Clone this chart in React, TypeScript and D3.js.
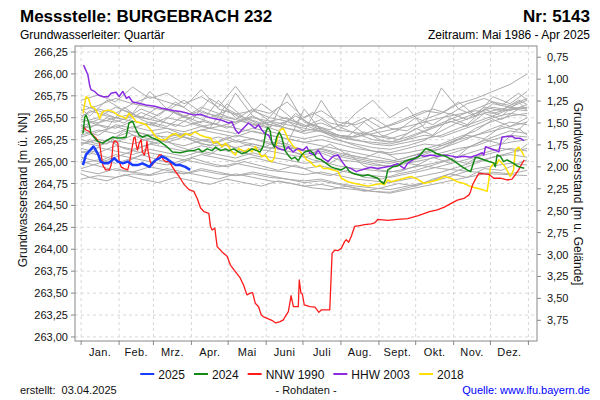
import React from 'react';
import * as d3 from 'd3';

const FONT = '"Liberation Sans", Arial, Helvetica, sans-serif';

// ---- axis data ----
const monthLabels = ['Jan.', 'Feb.', 'Mrz.', 'Apr.', 'Mai', 'Juni', 'Juli', 'Aug.', 'Sept.', 'Okt.', 'Nov.', 'Dez.'];
const monthStartDays = [0, 31, 59, 90, 120, 151, 181, 212, 243, 273, 304, 334, 365];
const levelTicks = [263.0, 263.25, 263.5, 263.75, 264.0, 264.25, 264.5, 264.75, 265.0, 265.25, 265.5, 265.75, 266.0, 266.25];
const depthTicks = [0.75, 1.0, 1.25, 1.5, 1.75, 2.0, 2.25, 2.5, 2.75, 3.0, 3.25, 3.5, 3.75];
const GROUND_LEVEL = 266.94;

// ---- background years (grey), sampled every 14 days ----
const grayDays = [0, 14, 28, 42, 56, 70, 84, 98, 112, 126, 140, 154, 168, 182, 196, 210, 224, 238, 252, 266, 280, 294, 308, 322, 336, 350, 364];
const grayYears: number[][] = [
  [265.70, 265.76, 265.68, 265.85, 265.72, 265.78, 265.66, 265.74, 265.62, 265.86, 265.60, 265.55, 265.68, 265.50, 265.58, 265.45, 265.42, 265.50, 265.38, 265.35, 265.48, 265.55, 265.68, 265.52, 265.74, 265.66, 265.80],
  [265.52, 265.60, 265.55, 265.66, 265.62, 265.58, 265.70, 265.56, 265.52, 265.48, 265.60, 265.46, 265.50, 265.40, 265.44, 265.36, 265.33, 265.30, 265.26, 265.32, 265.42, 265.84, 265.60, 265.52, 265.66, 265.62, 265.70],
  [265.45, 265.50, 265.62, 265.55, 265.80, 265.60, 265.52, 265.58, 265.50, 265.45, 265.52, 265.40, 265.46, 265.35, 265.38, 265.30, 265.28, 265.35, 265.42, 265.50, 265.58, 265.55, 265.66, 265.72, 265.80, 265.88, 266.00],
  [265.40, 265.48, 265.45, 265.52, 265.48, 265.60, 265.50, 265.62, 265.55, 265.48, 265.42, 265.45, 265.38, 265.32, 265.36, 265.28, 265.24, 265.22, 265.20, 265.25, 265.30, 265.28, 265.35, 265.42, 265.50, 265.55, 265.52],
  [265.35, 265.30, 265.42, 265.38, 265.45, 265.40, 265.52, 265.44, 265.70, 265.50, 265.42, 265.38, 265.78, 265.45, 265.38, 265.30, 265.25, 265.20, 265.18, 265.22, 265.26, 265.30, 265.38, 265.45, 265.52, 265.60, 265.58],
  [265.30, 265.36, 265.32, 265.40, 265.35, 265.38, 265.30, 265.36, 265.32, 265.28, 265.35, 265.30, 265.26, 265.22, 265.25, 265.20, 265.15, 265.12, 265.10, 265.15, 265.20, 265.18, 265.25, 265.30, 265.38, 265.45, 265.42],
  [265.25, 265.20, 265.28, 265.35, 265.30, 265.28, 265.32, 265.25, 265.22, 265.30, 265.26, 265.22, 265.20, 265.60, 265.35, 265.25, 265.18, 265.12, 265.08, 265.10, 265.14, 265.20, 265.28, 265.35, 265.48, 265.40, 265.50],
  [265.20, 265.25, 265.22, 265.30, 265.26, 265.22, 265.28, 265.20, 265.18, 265.24, 265.20, 265.15, 265.18, 265.12, 265.15, 265.10, 265.06, 265.02, 265.00, 265.05, 265.10, 265.15, 265.22, 265.30, 265.35, 265.40, 265.45],
  [265.15, 265.10, 265.18, 265.14, 265.20, 265.16, 265.12, 265.18, 265.14, 265.10, 265.15, 265.12, 265.08, 265.05, 265.10, 265.02, 265.00, 264.96, 264.95, 265.00, 265.05, 265.10, 265.15, 265.18, 265.25, 265.30, 265.28],
  [265.10, 265.16, 265.12, 265.08, 265.14, 265.10, 265.06, 265.12, 265.08, 265.04, 265.10, 265.05, 265.02, 264.98, 265.00, 264.95, 264.92, 264.90, 264.88, 264.92, 264.96, 265.00, 265.06, 265.12, 265.18, 265.22, 265.25],
  [265.05, 265.00, 265.08, 265.04, 265.10, 265.06, 265.02, 265.08, 265.04, 265.00, 265.05, 265.00, 264.96, 264.92, 264.95, 264.90, 264.86, 264.84, 264.82, 264.86, 264.90, 264.95, 265.00, 265.05, 265.10, 265.15, 265.12],
  [264.98, 265.02, 264.98, 265.04, 265.00, 264.96, 265.02, 264.98, 264.94, 264.98, 264.94, 264.90, 264.88, 264.85, 264.88, 264.84, 264.80, 264.78, 264.76, 264.80, 264.84, 264.88, 264.94, 265.00, 265.05, 265.08, 265.05],
  [264.90, 264.86, 264.92, 264.88, 264.94, 264.90, 264.86, 264.92, 264.88, 264.84, 264.88, 264.84, 264.80, 264.78, 264.80, 264.75, 264.72, 264.70, 264.68, 264.72, 264.76, 264.80, 264.86, 264.92, 264.95, 264.98, 264.96],
  [264.80, 264.84, 264.82, 264.86, 264.84, 264.88, 264.86, 264.90, 264.86, 264.84, 264.86, 264.82, 264.80, 264.76, 264.78, 264.74, 264.70, 264.66, 264.64, 264.68, 264.72, 264.76, 264.80, 264.84, 264.88, 264.86, 264.90],
  [265.58, 265.64, 265.72, 265.66, 265.74, 265.68, 265.62, 265.82, 265.60, 265.54, 265.58, 265.50, 265.46, 265.40, 265.48, 265.35, 265.55, 265.70, 265.50, 265.62, 265.38, 265.42, 265.48, 265.55, 265.62, 265.58, 265.65],
  [265.48, 265.44, 265.50, 265.46, 265.42, 265.50, 265.46, 265.40, 265.44, 265.78, 265.52, 265.42, 265.38, 265.34, 265.70, 265.40, 265.32, 265.25, 265.22, 265.28, 265.35, 265.44, 265.52, 265.60, 265.68, 265.64, 265.72],
  [265.38, 265.42, 265.38, 265.46, 265.42, 265.38, 265.34, 265.40, 265.36, 265.32, 265.38, 265.34, 265.30, 265.26, 265.30, 265.24, 265.20, 265.16, 265.14, 265.18, 265.24, 265.35, 265.45, 265.52, 265.58, 265.62, 265.60],
  [265.28, 265.34, 265.40, 265.34, 265.30, 265.34, 265.28, 265.24, 265.28, 265.22, 265.26, 265.20, 265.16, 265.12, 265.14, 265.08, 265.04, 265.00, 264.98, 265.02, 265.08, 265.15, 265.25, 265.38, 265.46, 265.52, 265.55],
  [265.22, 265.18, 265.24, 265.20, 265.26, 265.22, 265.18, 265.24, 265.20, 265.16, 265.20, 265.16, 265.12, 265.08, 265.12, 265.06, 265.02, 264.98, 264.94, 264.98, 265.02, 265.06, 265.12, 265.20, 265.28, 265.35, 265.32],
  [265.00, 264.95, 264.90, 264.88, 264.85, 264.92, 264.88, 264.84, 264.80, 264.86, 264.82, 264.78, 264.76, 264.72, 264.74, 264.70, 264.68, 264.66, 264.65, 264.70, 264.75, 264.82, 264.90, 264.98, 265.05, 265.10, 265.15],
  [265.65, 265.58, 265.50, 265.54, 265.48, 265.44, 265.40, 265.46, 265.42, 265.38, 265.34, 265.30, 265.26, 265.22, 265.18, 265.14, 265.10, 265.06, 265.02, 264.98, 264.95, 264.92, 264.90, 264.88, 264.86, 264.85, 264.84],
  [264.92, 264.98, 265.05, 265.12, 265.20, 265.25, 265.30, 265.36, 265.40, 265.45, 265.50, 265.46, 265.42, 265.38, 265.34, 265.30, 265.28, 265.32, 265.36, 265.40, 265.45, 265.50, 265.54, 265.58, 265.55, 265.60, 265.62],
];

// ---- more background years, offset sampling (weekly start, then every 14 days) ----
const grayDaysB = [0, 7, 21, 35, 49, 63, 77, 91, 105, 119, 133, 147, 161, 175, 189, 203, 217, 231, 245, 259, 273, 287, 301, 315, 329, 343, 357, 364];
const grayYearsB: number[][] = [
  [265.30, 265.45, 265.38, 265.62, 265.48, 265.40, 265.58, 265.45, 265.38, 265.66, 265.50, 265.42, 265.35, 265.55, 265.40, 265.32, 265.28, 265.45, 265.30, 265.25, 265.38, 265.30, 265.50, 265.42, 265.60, 265.52, 265.68, 265.58],
  [265.12, 265.08, 265.25, 265.15, 265.10, 265.30, 265.18, 265.12, 265.08, 265.20, 265.10, 265.05, 265.22, 265.10, 265.02, 264.98, 265.10, 264.95, 264.90, 264.88, 264.95, 265.05, 264.98, 265.15, 265.25, 265.20, 265.38, 265.30],
  [265.60, 265.52, 265.70, 265.58, 265.50, 265.62, 265.55, 265.48, 265.72, 265.60, 265.50, 265.44, 265.40, 265.52, 265.42, 265.36, 265.46, 265.32, 265.28, 265.36, 265.50, 265.42, 265.55, 265.48, 265.62, 265.58, 265.70, 265.65],
  [264.86, 264.82, 264.78, 264.85, 264.80, 264.76, 264.82, 264.78, 264.74, 264.80, 264.76, 264.72, 264.78, 264.74, 264.70, 264.68, 264.72, 264.66, 264.70, 264.75, 264.72, 264.80, 264.86, 264.82, 264.92, 264.90, 264.98, 265.02],
  [265.42, 265.38, 265.50, 265.44, 265.56, 265.48, 265.40, 265.52, 265.45, 265.38, 265.48, 265.40, 265.62, 265.46, 265.38, 265.30, 265.26, 265.34, 265.24, 265.22, 265.30, 265.38, 265.46, 265.40, 265.55, 265.48, 265.60, 265.62],
  [265.18, 265.25, 265.20, 265.35, 265.26, 265.20, 265.32, 265.24, 265.18, 265.28, 265.20, 265.15, 265.24, 265.16, 265.10, 265.20, 265.08, 265.04, 265.12, 265.02, 265.08, 265.14, 265.22, 265.30, 265.26, 265.40, 265.36, 265.46],
  [265.50, 265.58, 265.52, 265.48, 265.60, 265.52, 265.68, 265.55, 265.50, 265.58, 265.48, 265.66, 265.52, 265.45, 265.56, 265.44, 265.40, 265.50, 265.38, 265.44, 265.52, 265.60, 265.54, 265.66, 265.72, 265.64, 265.78, 265.70],
  [265.02, 265.10, 265.05, 264.98, 265.08, 265.02, 264.96, 265.04, 264.98, 264.94, 265.00, 264.95, 264.90, 264.96, 264.88, 264.84, 264.90, 264.82, 264.80, 264.86, 264.90, 264.96, 265.02, 264.98, 265.10, 265.15, 265.12, 265.20],
];

// ---- highlighted years: [day of year, level m ü. NN] ----
const series2025: [number, number][] = [
  [1.5, 264.96], [4, 265.08], [10, 265.17], [11, 265.155], [14, 265.08], [16, 265.0], [19, 264.98], [22, 264.98], [24, 265.0], [27, 265.04], [30, 265.0], [34, 264.98], [38, 265.0], [42, 264.96], [46, 264.96], [50, 264.98], [53, 264.96], [56, 264.94], [58, 264.98], [61, 265.02], [64, 265.04], [66, 265.06], [69, 265.04], [73, 265.0], [77, 264.96], [81, 264.96], [85, 264.94], [89, 264.905],
];

const series2024: [number, number][] = [
  [1.5, 265.32], [3, 265.51], [4, 265.53], [5.5, 265.475], [7, 265.40], [8, 265.32], [11, 265.27], [13.6, 265.23], [17.7, 265.21], [22, 265.25], [26, 265.28], [28.5, 265.27], [32.6, 265.27], [36.7, 265.28], [39, 265.44], [42, 265.46], [45, 265.36], [47.4, 265.30], [50, 265.28], [54, 265.30], [58, 265.27], [62, 265.25], [66, 265.21], [70, 265.17], [74.5, 265.11], [81, 265.10], [87, 265.12],
  [92, 265.125], [96, 265.145], [98.8, 265.11], [102.8, 265.145], [106.9, 265.125], [109.7, 265.165], [113.7, 265.125], [117.8, 265.145], [120.4, 265.125], [124.5, 265.145], [128.5, 265.11], [131.2, 265.09], [135.3, 265.11], [139.3, 265.145], [143.4, 265.125], [146.1, 265.11], [148.8, 265.185], [150.7, 265.335], [152.3, 265.39], [154.3, 265.35], [155.6, 265.22], [157.7, 265.165], [159.6, 265.28], [161.6, 265.335], [163.7, 265.28], [166.4, 265.125], [169.1, 265.07], [171.8, 265.03], [174.5, 265.05], [177.2, 265.01],
  [179.9, 265.075], [182.6, 265.11], [186.7, 265.13], [189.4, 265.095], [192, 265.04], [196, 265.02], [200, 264.98], [204, 264.94], [208, 264.92], [212.3, 264.905], [216.4, 264.94], [219, 264.885], [221.8, 264.865], [225.9, 264.85], [229.9, 264.835], [234, 264.85], [238, 264.83], [242.1, 264.81], [244.8, 264.77], [247, 264.75], [248.8, 264.81], [250.2, 264.905], [254.3, 264.94], [258.3, 264.95], [263.7, 265.0], [267.8, 265.02], [273.2, 265.04], [275.9, 265.06], [278.6, 265.11], [281.3, 265.15], [285.3, 265.13], [289.4, 265.095], [293.4, 265.075], [297.5, 265.06], [302.9, 265.02], [307, 264.98], [311, 264.94], [315, 264.905], [317.8, 264.885], [320.5, 265.0], [321.8, 265.05], [324.6, 265.04], [328.6, 265.02], [332.7, 265.0], [336.7, 264.985], [338, 264.94], [339.4, 265.075], [342.1, 265.06], [344.8, 265.0], [347.5, 265.02], [350.2, 265.0], [352.9, 264.98], [355.7, 264.95], [358.4, 264.935], [361.6, 264.925],
];

const seriesNNW1990: [number, number][] = [
  [1.5, 265.40], [4, 265.36], [7, 265.34], [9.6, 265.30], [12, 265.27], [15, 265.21], [16.4, 265.075], [17.7, 264.96], [20, 264.905], [23, 264.905], [24.5, 264.96], [26, 265.19], [27, 265.235], [28.5, 265.23], [30, 265.21], [31, 265.0], [32.6, 264.94], [35, 264.92], [38, 264.905], [39, 264.96], [41, 265.11], [43, 265.27], [44, 265.28], [45, 265.19], [46, 265.13], [47.4, 265.21], [49, 265.25], [50, 265.11], [51.5, 265.075], [53, 265.15], [53.7, 265.23], [54.7, 265.11], [56.4, 265.0], [58, 264.96], [61, 265.02], [63.7, 265.075], [65.5, 265.075], [67, 265.02], [69, 265.0], [72, 265.0], [74.5, 264.94], [77, 264.885], [80, 264.83], [82.6, 264.77], [84, 264.74],
  [88, 264.68], [92, 264.66], [94.7, 264.58], [97.5, 264.47], [100.2, 264.43], [104.2, 264.41], [105.6, 264.26], [106.9, 264.22], [109.1, 264.24], [111, 264.03], [115, 263.97], [119.1, 263.92], [121.8, 263.82], [125.9, 263.745], [129.9, 263.67], [132.6, 263.59], [135.3, 263.48], [138, 263.50], [139.9, 263.505], [142.1, 263.385], [144.8, 263.345], [147, 263.25], [148.8, 263.23], [151.5, 263.215], [155.6, 263.19], [158.8, 263.16], [162.4, 263.175], [165, 263.195], [166.4, 263.23], [169.1, 263.29], [171.3, 263.47], [173.2, 263.345], [177.2, 263.345], [178, 263.65], [179.4, 263.50], [180.5, 263.49], [182.1, 263.365], [186.7, 263.345], [190.8, 263.34], [194, 263.28], [196.1, 263.31], [200.2, 263.31], [202.9, 263.31], [204.8, 263.955], [207, 263.99], [209.7, 263.985], [212.3, 264.01], [215.1, 264.09], [216.4, 264.11], [218.3, 264.08], [220.4, 264.145], [223.2, 264.26], [227.3, 264.27], [231.3, 264.28], [236.7, 264.29], [239.4, 264.30], [242.1, 264.34],
  [250.2, 264.33], [258.3, 264.34], [266.4, 264.35], [274.5, 264.38], [278.6, 264.40], [284.3, 264.43], [290.7, 264.45], [296.4, 264.48], [301.5, 264.52], [307, 264.56], [312.4, 264.58], [316.5, 264.62], [317.8, 264.66], [319.3, 264.73], [321.8, 264.80], [324.6, 264.865], [328.6, 264.86], [332.7, 264.855], [336.7, 264.81], [342.1, 264.81], [347.5, 264.79], [351.6, 264.80], [354.3, 264.85], [357, 264.905], [359.7, 264.975], [361.6, 265.02],
];

const seriesHHW2003: [number, number][] = [
  [2, 266.10], [5.5, 265.99], [7, 265.87], [8, 265.82], [11, 265.80], [14, 265.76], [18, 265.74], [22, 265.74], [24.5, 265.78], [28.5, 265.79], [31, 265.74], [34, 265.80], [37, 265.72], [39, 265.74], [42, 265.68], [47, 265.665], [53, 265.645], [60, 265.63], [65, 265.61], [72, 265.59], [76, 265.58], [81, 265.57], [87, 265.55], [92, 265.53], [97.5, 265.54], [103, 265.51], [108, 265.49], [114, 265.475],
  [120.4, 265.44], [123, 265.455], [126, 265.36], [128.5, 265.32], [131, 265.36], [136.6, 265.44], [142, 265.38], [144.8, 265.42], [147.4, 265.36], [150, 265.32], [152.9, 265.30], [157, 265.19], [161, 265.15], [166.4, 265.13], [169, 265.17], [173, 265.11], [177, 265.15], [181, 265.13], [184, 265.17], [186.7, 265.095], [190.7, 265.075], [193.4, 265.13], [197.5, 265.04], [201.5, 265.0], [205.6, 265.06], [209.7, 265.075],
  [212, 265.02], [216, 264.94], [220.4, 264.92], [224.5, 264.885], [228.5, 264.905], [232.6, 264.92], [236.7, 264.935], [242, 264.92], [247.5, 264.935], [252.9, 264.95], [258.3, 264.975], [263.7, 264.92], [266.4, 264.98], [271.9, 265.03], [276, 265.075], [280, 265.06], [285.3, 265.075], [290.7, 265.06], [296.2, 265.075], [301.5, 265.065], [306.9, 265.05], [312.4, 265.06], [317.8, 265.05], [323.2, 265.075], [327.3, 265.10], [328.6, 265.075], [330, 265.17], [334, 265.15], [338, 265.13], [340.8, 265.11], [343.5, 265.28], [347.5, 265.285], [351.6, 265.29], [354.3, 265.265], [358.4, 265.265], [361.6, 265.24],
];

const series2018: [number, number][] = [
  [1.5, 265.55], [4, 265.74], [6, 265.72], [8, 265.63], [11, 265.61], [13.6, 265.55], [15, 265.49], [17.7, 265.57], [22, 265.59], [26, 265.57], [30, 265.53], [34, 265.51], [36.7, 265.49], [39, 265.55], [42, 265.51], [45, 265.455], [49, 265.44], [53, 265.42], [57, 265.36], [61, 265.28], [65, 265.25], [69, 265.25], [73, 265.30], [77, 265.32], [81, 265.28], [85, 265.32], [89, 265.30], [93, 265.34], [97.5, 265.30], [101.5, 265.28], [105.6, 265.27], [108, 265.21], [111, 265.23],
  [115, 265.17], [117.8, 265.21], [120.4, 265.17], [123.1, 265.11], [125.9, 265.075], [128.5, 265.15], [131.2, 265.13], [134, 265.11], [136.7, 265.15], [139.3, 265.11], [142.1, 265.17], [144.8, 265.11], [147.4, 265.055], [150.2, 265.075], [152.9, 265.02], [155.6, 265.0], [157.7, 265.04], [158.8, 265.17], [160.4, 265.285], [162.4, 265.36], [165, 265.38], [166.9, 265.325], [168.5, 265.265], [170.5, 265.23], [173.2, 265.17], [175.8, 265.15], [178.6, 265.115], [181.3, 265.075], [184, 265.02], [186.7, 265.0], [189.4, 264.96], [192, 264.94], [194.8, 264.96], [197.5, 264.92], [201.5, 264.92], [205.6, 264.905], [209.7, 264.885],
  [212.3, 264.81], [217.8, 264.77], [223.2, 264.75], [228.5, 264.735], [234, 264.72], [239.4, 264.735], [244.8, 264.75], [247.5, 264.735], [250.2, 264.79], [252.9, 264.77], [258.3, 264.79], [263.7, 264.81], [269.1, 264.83], [274.5, 264.80], [280, 264.75], [285.3, 264.77], [290.7, 264.79], [296.2, 264.83], [301.5, 264.81], [307, 264.77], [312.4, 264.75], [317.8, 264.715], [323.2, 264.695], [328.6, 264.675], [331.3, 264.66], [332.7, 264.79], [334, 264.93], [336.7, 264.985], [339.4, 264.975], [340.8, 265.02], [343.5, 264.98], [346.1, 264.94], [348.9, 264.865], [350.2, 264.83], [352.9, 264.905], [354.3, 265.13], [357, 265.165], [359.7, 265.11], [361.6, 265.06],
];

const legendNames = ['2025', '2024', 'NNW 1990', 'HHW 2003', '2018'];
const legendColors = ['#1a3cff', '#138a13', '#ff1a1a', '#8a2be2', '#ffe000'];

const fmtDE = (v: number) => d3.format('.2f')(v).replace('.', ',');

function textWidth(t: string, size: number) {
  const c = document.createElement('canvas').getContext('2d');
  if (!c) return t.length * size * 0.55;
  c.font = `${size}px "Liberation Sans", Arial, sans-serif`;
  return c.measureText(t).width;
}

export default function App() {
  const L = 75, R = 537, T = 46, B = 341;
  const x = d3.scaleLinear().domain([-5, 372]).range([L, R]);
  const y = d3.scaleLinear().domain([262.954, 266.318]).range([B, T]);
  const yDepth = (d: number) => y(GROUND_LEVEL - d);
  const line = d3.line<[number, number]>().x(d => x(d[0])).y(d => y(d[1])).curve(d3.curveLinear);

  const toPairs = (days: number[], vals: number[]) =>
    vals.map((v, i) => [days[i], v] as [number, number]).filter(p => p[0] !== undefined);
  const grayPaths = [
    ...grayYears.map(vals => line(toPairs(grayDays, vals))),
    ...grayYearsB.map(vals => line(toPairs(grayDaysB, vals))),
  ];

  const highlighted: { data: [number, number][]; color: string; width: number }[] = [
    { data: series2018, color: legendColors[4], width: 1.5 },
    { data: seriesHHW2003, color: legendColors[3], width: 1.5 },
    { data: seriesNNW1990, color: legendColors[2], width: 1.3 },
    { data: series2024, color: legendColors[1], width: 1.5 },
    { data: series2025, color: legendColors[0], width: 2.5 },
  ];

  // legend layout
  const lgSize = 12;
  const lineLen = 14, gapLT = 4, gapItem = 9;
  const widths = legendNames.map(n => textWidth(n, lgSize));
  const total = widths.reduce((a, w) => a + lineLen + gapLT + w, 0) + gapItem * (legendNames.length - 1);
  let lx = 302 - total / 2;
  const legendItems = legendNames.map((n, i) => {
    const item = { x: lx, name: n, color: legendColors[i] };
    lx += lineLen + gapLT + widths[i] + gapItem;
    return item;
  });
  const legendY = 374;

  return (
    <svg width={600} height={400} style={{ position: 'absolute', left: 0, top: 0, background: '#fff' }} fontFamily={FONT}>
      <rect x={0} y={0} width={600} height={400} fill="#fff" />
      <defs>
        <clipPath id="plotclip">
          <rect x={L} y={T} width={R - L} height={B - T} />
        </clipPath>
      </defs>

      {/* Titles */}
      <text x={20} y={22} fontSize={17} fontWeight="bold" fill="#000">Messstelle: BURGEBRACH 232</text>
      <text x={590} y={22} fontSize={17} fontWeight="bold" fill="#000" textAnchor="end">Nr: 5143</text>
      <text x={20} y={39} fontSize={12} fill="#000">Grundwasserleiter: Quartär</text>
      <text x={590} y={39} fontSize={12} fill="#000" textAnchor="end">Zeitraum: Mai 1986 - Apr 2025</text>

      {/* grid */}
      {levelTicks.map(t => (
        <line key={'hg' + t} x1={L} x2={R} y1={y(t)} y2={y(t)} stroke="#d8d8d8" strokeDasharray="3,3" />
      ))}
      {monthStartDays.map(d => (
        <line key={'vg' + d} x1={x(d)} x2={x(d)} y1={T} y2={B} stroke="#d8d8d8" strokeDasharray="3,3" />
      ))}

      {/* data */}
      <g clipPath="url(#plotclip)" fill="none" strokeLinejoin="round">
        {grayPaths.map((p, i) => (
          <path key={'g' + i} d={p || ''} stroke="#ababab" strokeWidth={1} />
        ))}
        {highlighted.map((s, i) => (
          <path key={'h' + i} d={line(s.data) || ''} stroke={s.color} strokeWidth={s.width} />
        ))}
      </g>

      {/* frame */}
      <rect x={L} y={T} width={R - L} height={B - T} fill="none" stroke="#888" strokeWidth={1} />

      {/* left axis */}
      {levelTicks.map(t => (
        <g key={'lt' + t}>
          <line x1={L - 4} x2={L} y1={y(t)} y2={y(t)} stroke="#888" />
          <text x={68} y={y(t) + 4} fontSize={11} textAnchor="end" fill="#111">{fmtDE(t)}</text>
        </g>
      ))}
      {/* right axis */}
      {depthTicks.map(t => (
        <g key={'rt' + t}>
          <line x1={R} x2={R + 4} y1={yDepth(t)} y2={yDepth(t)} stroke="#888" />
          <text x={547} y={yDepth(t) + 4} fontSize={11} fill="#111">{fmtDE(t)}</text>
        </g>
      ))}
      {/* bottom axis */}
      {monthStartDays.map(d => (
        <line key={'bt' + d} x1={x(d)} x2={x(d)} y1={B} y2={B + 4} stroke="#888" />
      ))}
      {monthLabels.map((m, i) => (
        <text key={'ml' + m} x={x((monthStartDays[i] + monthStartDays[i + 1]) / 2)} y={356} fontSize={11} letterSpacing={0.4} textAnchor="middle" fill="#111">{m}</text>
      ))}

      {/* axis titles */}
      <text transform="translate(27,190) rotate(-90)" fontSize={12} textAnchor="middle" fill="#111">Grundwasserstand [m ü. NN]</text>
      <text transform="translate(574,194) rotate(90)" fontSize={12} textAnchor="middle" fill="#111">Grundwasserstand [m u. Gelände]</text>

      {/* legend */}
      {legendItems.map(it => (
        <g key={'lg' + it.name}>
          <line x1={it.x} x2={it.x + lineLen} y1={legendY} y2={legendY} stroke={it.color} strokeWidth={2} />
          <text x={it.x + lineLen + gapLT} y={legendY + 4.5} fontSize={lgSize} fill="#111">{it.name}</text>
        </g>
      ))}

      {/* footer */}
      <text x={20} y={394} fontSize={11} fill="#111" xmlSpace="preserve">erstellt:  03.04.2025</text>
      <text x={306} y={394} fontSize={11} fill="#111" textAnchor="middle">- Rohdaten -</text>
      <text x={590} y={394} fontSize={11} fill="#0000ff" textAnchor="end">Quelle: www.lfu.bayern.de</text>
    </svg>
  );
}
